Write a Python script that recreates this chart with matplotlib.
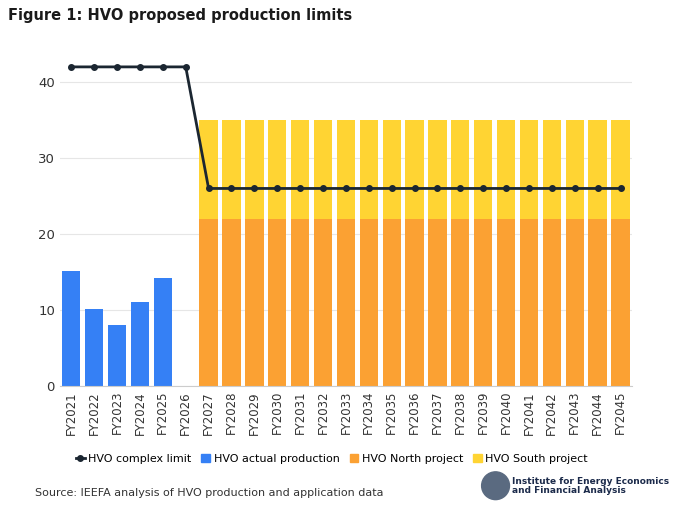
import matplotlib.pyplot as plt
from matplotlib.lines import Line2D
from matplotlib.patches import Patch, Ellipse

years = ["FY%d" % y for y in range(2021, 2046)]
actual = [15.2, 10.1, 8.0, 11.0, 14.2] + [0] * 20
north = [0] * 6 + [22] * 19
south = [0] * 6 + [13] * 19
limit = [42] * 6 + [26] * 19

BLUE = "#3580f5"
ORANGE = "#fba133"
YELLOW = "#ffd433"
DARK = "#1b2631"

fig = plt.figure(figsize=(6.96, 5.14), dpi=100)
ax = fig.add_axes([0.086, 0.249, 0.822, 0.68])

x = range(len(years))
ax.bar(x, actual, width=0.8, color=BLUE)
ax.bar(x, north, width=0.8, color=ORANGE)
ax.bar(x, south, width=0.8, bottom=north, color=YELLOW)
ax.plot(x, limit, color=DARK, lw=2, marker="o", ms=4, zorder=5)

ax.set_xlim(-0.5, len(years) - 0.5)
ax.set_ylim(0, 46)
ax.set_yticks([0, 10, 20, 30, 40])
ax.set_xticks(list(x))
ax.set_xticklabels(years, rotation=90, fontsize=8.5, color="#333333")
ax.tick_params(axis="y", labelsize=9.5, colors="#333333", length=0)
ax.tick_params(axis="x", length=0)
ax.yaxis.grid(True, color="#e6e6e6", lw=0.8)
ax.set_axisbelow(True)
for s in ["top", "right", "left"]:
    ax.spines[s].set_visible(False)
ax.spines["bottom"].set_color("#cccccc")

fig.text(0.012, 0.97, "Figure 1: HVO proposed production limits",
         fontsize=10.5, fontweight="bold", color="#1a1a1a", va="center")

handles = [
    Line2D([0], [0], color=DARK, lw=2, marker="o", ms=4),
    Patch(color=BLUE), Patch(color=ORANGE), Patch(color=YELLOW),
]
labels = ["HVO complex limit", "HVO actual production",
          "HVO North project", "HVO South project"]
fig.legend(handles, labels, loc="center", bbox_to_anchor=(0.477, 0.107),
           ncol=4, frameon=False, fontsize=8, handlelength=0.8,
           handletextpad=0.3, columnspacing=0.9)

fig.text(0.05, 0.041, "Source: IEEFA analysis of HVO production and application data",
         fontsize=8, color="#333333", va="center")
fig.text(0.735, 0.055, "Institute for Energy Economics\nand Financial Analysis",
         fontsize=6.5, fontweight="bold", color="#1b2a4a", va="center", linespacing=1.0)
fig.patches.append(Ellipse((0.712, 0.055), 0.04, 0.054, transform=fig.transFigure,
                           color="#5a6a80", figure=fig))

fig.savefig("out.png", dpi=100)
